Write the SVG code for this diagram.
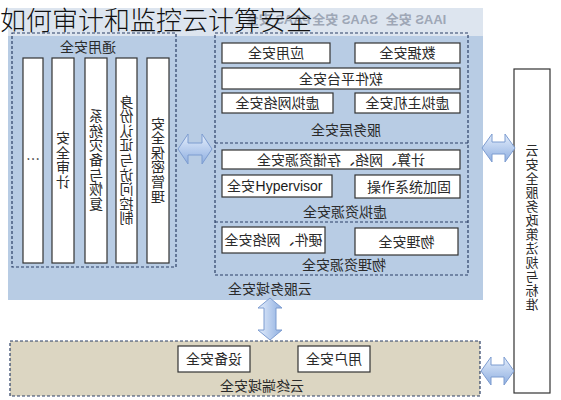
<svg xmlns="http://www.w3.org/2000/svg" width="561" height="400" viewBox="0 0 561 400">
<defs>
<linearGradient id="ah" x1="0" y1="0" x2="0" y2="1"><stop offset="0" stop-color="#e4eefc"/><stop offset="1" stop-color="#8eaee0"/></linearGradient>
<linearGradient id="av" x1="0" y1="0" x2="1" y2="0"><stop offset="0" stop-color="#e4eefc"/><stop offset="1" stop-color="#8eaee0"/></linearGradient>
</defs>
<style>
.t{font-family:"Noto Sans CJK SC","Liberation Sans",sans-serif;font-size:14px;fill:#2a2a2a;text-anchor:middle}
.v{writing-mode:vertical-rl;letter-spacing:0.6px}
.b{fill:#fff;stroke:#333;stroke-width:1.2}
.d{fill:none;stroke:#2b3f66;stroke-width:1.2;stroke-dasharray:3 2}
.g{font-family:"Liberation Sans","Noto Sans CJK SC",sans-serif;font-size:13px;fill:#9ea7b6;font-weight:bold;text-anchor:middle}
.e{font-family:"Liberation Sans",sans-serif;font-size:14px;fill:#1a1a1a;text-anchor:middle}
.ar{stroke:#7d9cd0;stroke-width:1}
</style>
<rect x="8" y="8" width="475" height="28" fill="#dde5ef"/>
<rect x="8" y="36" width="475" height="264" fill="#b8cce4"/>
<rect x="10" y="341" width="470" height="55" fill="#dcd6c2"/>
<text class="g" x="278" y="24" transform="matrix(-1 0 0 1 556 0)">PAAS 安全</text>
<text class="g" x="345" y="24" transform="matrix(-1 0 0 1 690 0)">SAAS 安全</text>
<text class="g" x="416" y="24" transform="matrix(-1 0 0 1 832 0)">IAAS 安全</text>
<g id="general">
<rect class="d" x="12" y="33" width="164" height="234"/>
<text class="t" x="88" y="52" transform="matrix(-1 0 0 1 176 0)">通用安全</text>
<rect class="b" x="23" y="58" width="20" height="205"/>
<rect class="b" x="52" y="58" width="22" height="205"/>
<rect class="b" x="85" y="58" width="22" height="205"/>
<rect class="b" x="116" y="58" width="21" height="205"/>
<rect class="b" x="147" y="58" width="22" height="205"/>
<text class="t" x="33" y="164">…</text>
<text class="t v" x="63" y="160" transform="matrix(-1 0 0 1 126 0)">安全审计</text>
<text class="t v" x="96" y="160" transform="matrix(-1 0 0 1 192 0)">系统灾备与恢复</text>
<text class="t v" x="126.5" y="160" transform="matrix(-1 0 0 1 253 0)">身份认证与访问控制</text>
<text class="t v" x="158" y="160" transform="matrix(-1 0 0 1 316 0)">安全保密管理</text>
</g>
<g id="service-layer">
<rect class="d" x="215" y="33" width="253" height="242"/>
<line class="d" x1="215" y1="143" x2="468" y2="143"/>
<line class="d" x1="215" y1="222" x2="468" y2="222"/>
<rect class="b" x="222" y="43" width="108" height="20"/>
<text class="t" x="276" y="58" transform="matrix(-1 0 0 1 552 0)">应用安全</text>
<rect class="b" x="355" y="43" width="105" height="20"/>
<text class="t" x="407.5" y="58" transform="matrix(-1 0 0 1 815 0)">数据安全</text>
<rect class="b" x="222" y="68" width="238" height="21"/>
<text class="t" x="341" y="83.5" transform="matrix(-1 0 0 1 682 0)">软件平台安全</text>
<rect class="b" x="222" y="93" width="111" height="20"/>
<text class="t" x="277.5" y="108" transform="matrix(-1 0 0 1 555 0)">虚拟网络安全</text>
<rect class="b" x="355" y="93" width="105" height="20"/>
<text class="t" x="407.5" y="108" transform="matrix(-1 0 0 1 815 0)">虚拟主机安全</text>
<text class="t" x="346" y="135" transform="matrix(-1 0 0 1 692 0)">服务层安全</text>
</g>
<g id="virtual-resource">
<rect class="b" x="222" y="150" width="238" height="19"/>
<text class="t" x="341" y="164.5" transform="matrix(-1 0 0 1 682 0)">计算、网络、存储资源安全</text>
<rect class="b" x="222" y="175" width="110" height="22"/>
<text class="t" x="241" y="191" transform="matrix(-1 0 0 1 482 0)">安全</text>
<text class="e" x="289" y="191">Hypervisor</text>
<rect class="b" x="355" y="175" width="105" height="23"/>
<text class="t" x="409" y="191.5">操作系统加固</text>
<text class="t" x="345" y="217" transform="matrix(-1 0 0 1 690 0)">虚拟资源安全</text>
</g>
<g id="physical-resource">
<rect class="b" x="222" y="227" width="103" height="26"/>
<text class="t" x="273.5" y="245" transform="matrix(-1 0 0 1 547 0)">硬件、网络安全</text>
<rect class="b" x="355" y="228" width="103" height="27"/>
<text class="t" x="406.5" y="246.5" transform="matrix(-1 0 0 1 813 0)">物理安全</text>
<text class="t" x="344" y="270" transform="matrix(-1 0 0 1 688 0)">物理资源安全</text>
</g>
<g id="cloud-service-domain">
<text class="t" x="270" y="294" transform="matrix(-1 0 0 1 540 0)">云服务域安全</text>
</g>
<g id="terminal-domain">
<rect class="d" x="10" y="341" width="470" height="55"/>
<rect class="b" x="178" y="346" width="72" height="26"/>
<text class="t" x="214" y="364" transform="matrix(-1 0 0 1 428 0)">设备安全</text>
<rect class="b" x="298" y="346" width="72" height="26"/>
<text class="t" x="334" y="364" transform="matrix(-1 0 0 1 668 0)">用户安全</text>
<text class="t" x="262" y="391" transform="matrix(-1 0 0 1 524 0)">云终端域安全</text>
</g>
<g id="policy">
<rect class="b" x="514" y="69" width="36" height="324" stroke="#555"/>
<text class="t v" x="532" y="228" style="font-size:13px;letter-spacing:1px" transform="matrix(-1 0 0 1 1064 0)">云安全服务政策法规与标准</text>
</g>
<g id="connectors">
<path class="ar" fill="url(#ah)" d="M178,149 L188,134 L188,143 L202,143 L202,134 L212,149 L202,164 L202,155 L188,155 L188,164 Z"/>
<path class="ar" fill="url(#ah)" d="M482,148 L492,134 L492,142 L505,142 L505,134 L515,148 L505,162 L505,154 L492,154 L492,162 Z"/>
<path class="ar" fill="url(#ah)" d="M481,371 L491,357 L491,365 L504,365 L504,357 L514,371 L504,385 L504,377 L491,377 L491,385 Z"/>
<path class="ar" fill="url(#av)" d="M270,298 L282,308 L276,308 L276,330 L282,330 L270,340 L258,330 L264,330 L264,308 L258,308 Z"/>
</g>
<text x="0" y="30" style="font-family:'Noto Sans CJK SC',sans-serif;font-size:26px;font-weight:300;fill:#111">如何审计和监控云计算安全</text>
</svg>
